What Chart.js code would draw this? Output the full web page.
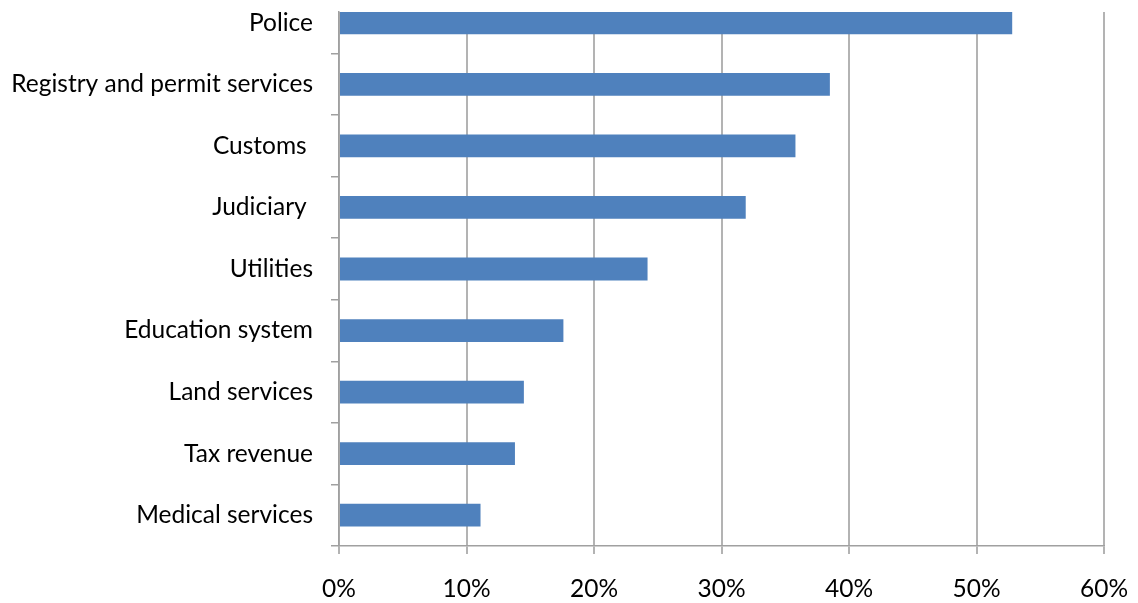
<!DOCTYPE html>
<html>
<head>
<meta charset="utf-8">
<script src="https://cdn.jsdelivr.net/npm/chart.js@4/dist/chart.umd.min.js"></script>
<style>
  html, body { margin: 0; padding: 0; background: #fff; }
  #wrap { width: 1138px; height: 603px; }
</style>
</head>
<body>
<div id="wrap"><canvas id="myChart"></canvas></div>
<script>
const categories = ['Police', 'Registry and permit services', 'Customs ', 'Judiciary ', 'Utilities',
    'Education system', 'Land services', 'Tax revenue', 'Medical services'];
const shares = [52.8, 38.5, 35.8, 31.9, 24.2, 17.6, 14.5, 13.8, 11.1];
const xTicks = [0, 10, 20, 30, 40, 50, 60];

const gridGrey = '#b3b3b3';
const axisGrey = '#a0a0a0';
const labelFont = { family: 'Lato, "Open Sans", sans-serif', size: 24.5 };

// bars sit on a numeric index axis so the plot can start a little into the first row
const points = shares.map((v, i) => ({ x: v, y: i }));

const data = {
    datasets: [{
        label: 'Share',
        data: points,
        backgroundColor: '#4f81bd',
        borderWidth: 0,
        categoryPercentage: 1,
        barPercentage: 0.37
    }]
};

const config = {
    type: 'bar',
    data: data,
    options: {
        indexAxis: 'y',
        responsive: true,
        maintainAspectRatio: false,
        animation: false,
        layout: { padding: { top: 12, right: 34, left: 0, bottom: 0 } },
        plugins: { legend: { display: false }, tooltip: { enabled: false } },
        scales: {
            x: {
                type: 'linear',
                min: 0,
                max: 60,
                afterBuildTicks: (scale) => { scale.ticks = xTicks.map(v => ({ value: v })); },
                afterFit: (scale) => {
                    scale.height = 57;
                    scale.paddingLeft = 0;
                    scale.paddingRight = 0;
                },
                ticks: {
                    color: '#000',
                    font: labelFont,
                    padding: 20,
                    maxRotation: 0,
                    callback: (v) => v + '%'
                },
                grid: { color: gridGrey, lineWidth: 2, tickLength: 8 },
                border: { color: axisGrey, width: 1.5 }
            },
            y: {
                type: 'linear',
                reverse: true,
                offset: false,
                min: -0.175,
                max: 8.5,
                bounds: 'data',
                afterBuildTicks: (scale) => { scale.ticks = categories.map((c, i) => ({ value: i })); },
                afterFit: (scale) => {
                    scale.width = 339;
                    scale.paddingTop = 0;
                    scale.paddingBottom = 0;
                },
                ticks: {
                    color: '#000',
                    font: labelFont,
                    padding: 18,
                    callback: (v) => categories[v]
                },
                grid: { offset: true, drawOnChartArea: false, color: axisGrey, lineWidth: 1.5, tickLength: 8 },
                border: { color: axisGrey, width: 1.5 }
            }
        }
    }
};

const myChart = new Chart(document.getElementById('myChart'), config);
</script>
</body>
</html>
